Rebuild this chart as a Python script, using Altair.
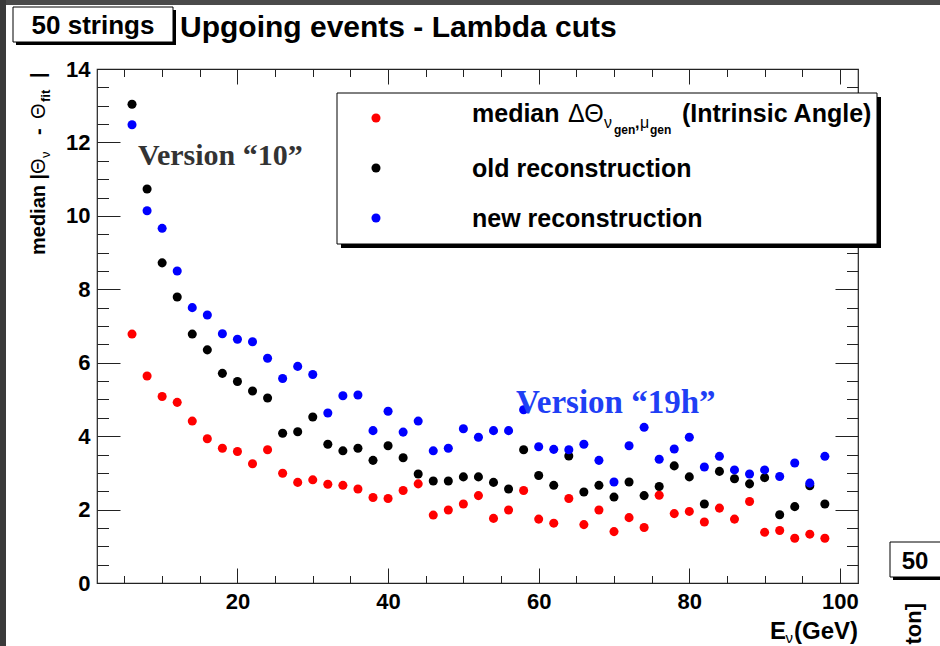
import altair as alt
import pandas as pd

# ---------------- data ----------------
energy = [6, 8, 10, 12, 14, 16, 18, 20, 22, 24, 26, 28, 30, 32, 34, 36, 38, 40, 42, 44,
          46, 48, 50, 52, 54, 56, 58, 60, 62, 64, 66, 68, 70, 72, 74, 76, 78, 80, 82, 84,
          86, 88, 90, 92, 94, 96, 98]
median_intrinsic = [6.78, 5.64, 5.08, 4.92, 4.41, 3.93, 3.67, 3.58, 3.25, 3.63, 2.99, 2.74,
                    2.81, 2.69, 2.66, 2.56, 2.33, 2.30, 2.52, 2.70, 1.85, 1.99, 2.15, 2.38,
                    1.76, 1.99, 2.52, 1.74, 1.63, 2.30, 1.59, 1.99, 1.40, 1.78, 1.51, 2.39,
                    1.89, 1.95, 1.66, 2.04, 1.74, 2.22, 1.38, 1.43, 1.22, 1.33, 1.22]
old_reco = [13.04, 10.73, 8.72, 7.79, 6.78, 6.35, 5.71, 5.49, 5.23, 5.04, 4.08, 4.12, 4.52,
            3.78, 3.60, 3.67, 3.34, 3.74, 3.41, 2.97, 2.78, 2.78, 2.89, 2.89, 2.74, 2.56,
            3.63, 2.93, 2.66, 3.46, 2.48, 2.66, 2.34, 2.75, 2.38, 2.63, 3.19, 2.89, 2.15,
            3.04, 2.84, 2.70, 2.87, 1.86, 2.08, 2.65, 2.15]
new_reco = [12.48, 10.14, 9.66, 8.50, 7.50, 7.30, 6.79, 6.64, 6.57, 6.12, 5.57, 5.90, 5.68,
            4.63, 5.10, 5.12, 4.15, 4.68, 4.11, 4.41, 3.60, 3.67, 4.20, 3.97, 4.15, 4.15,
            4.72, 3.71, 3.64, 3.63, 3.78, 3.34, 2.75, 3.74, 4.24, 3.37, 3.65, 3.97, 3.16,
            3.45, 3.08, 2.97, 3.08, 2.90, 3.27, 2.72, 3.45]

series_names = ["old", "median", "new"]
series_colors = ["#000000", "#ff0000", "#0000ff"]

x_domain = [1.35, 102.4]
y_domain = [0, 14]
x_major_ticks = [20, 40, 60, 80, 100]
x_minor_ticks = [v for v in range(5, 101, 5) if v % 20 != 0]
y_major_ticks = [0, 2, 4, 6, 8, 10, 12, 14]
y_minor_ticks = [v / 2 for v in range(1, 28) if v % 4 != 0]

title_box_text = "50 strings"
title_text = "Upgoing events - Lambda cuts"
version_old_text = "Version \u201c10\u201d"
version_new_text = "Version \u201c19h\u201d"

# ---------------- layout ----------------
W, H = 761, 514
LEFT, TOP = 97, 69
SANS = "Liberation Sans"
SERIF = "Liberation Serif"
DOT = 82


def px(v):
    return v - LEFT


def py(v):
    return v - TOP


rows = []
for name, vals in zip(series_names, [old_reco, median_intrinsic, new_reco]):
    for e, v in zip(energy, vals):
        rows.append({"energy": e, "value": v, "series": name})
df = pd.DataFrame(rows)

xs = alt.Scale(domain=x_domain, nice=False, zero=False)
ys = alt.Scale(domain=y_domain, nice=False, zero=False)

label_common = dict(grid=False, domain=False, ticks=False, labelFont=SANS,
                    labelFontWeight="bold", labelFontSize=22, labelColor="black",
                    title=None, labelOverlap=False)

points = alt.Chart(df).mark_circle(size=DOT, opacity=1).encode(
    x=alt.X("energy:Q", scale=xs,
            axis=alt.Axis(orient="bottom", values=x_major_ticks, labelPadding=8,
                          labelFlush=False, **label_common)),
    y=alt.Y("value:Q", scale=ys,
            axis=alt.Axis(orient="left", values=y_major_ticks, labelPadding=7, **label_common)),
    color=alt.Color("series:N", scale=alt.Scale(domain=series_names, range=series_colors),
                    legend=None),
    order=alt.Order("o:Q"),
).transform_calculate(o="datum.series == 'old' ? 0 : (datum.series == 'median' ? 1 : 2)")


def tick_layer(xorient, yorient, xvals, yvals, xlen, ylen):
    common = dict(grid=False, domain=False, labels=False, title=None, ticks=True,
                  tickColor="#222222", tickWidth=1)
    return alt.Chart(df).mark_point(opacity=0).encode(
        x=alt.X("energy:Q", scale=xs,
                axis=alt.Axis(orient=xorient, values=xvals, tickSize=xlen, offset=-xlen, **common)),
        y=alt.Y("value:Q", scale=ys,
                axis=alt.Axis(orient=yorient, values=yvals, tickSize=ylen, offset=-ylen, **common)),
    )


ticks_a = tick_layer("bottom", "left", x_major_ticks, y_major_ticks, 15, 23)
ticks_b = tick_layer("bottom", "left", x_minor_ticks, y_minor_ticks, 7.5, 11.5)
ticks_c = tick_layer("top", "right", x_major_ticks, y_major_ticks, 15, 23)
ticks_d = tick_layer("top", "right", x_minor_ticks, y_minor_ticks, 7.5, 11.5)

one = pd.DataFrame({"k": [0]})


def rect(x0, y0, x1, y1, fill, stroke=None, sw=0):
    kw = dict(fill=fill)
    if stroke:
        kw.update(stroke=stroke, strokeWidth=sw)
    return alt.Chart(one).mark_rect(**kw).encode(
        x=alt.value(px(x0)), x2=alt.value(px(x1)), y=alt.value(py(y0)), y2=alt.value(py(y1)))


def text(t, x, y, size, font=SANS, weight="bold", color="black", align="left", angle=0):
    kw = dict(font=font, fontSize=size, fontWeight=weight, color=color, align=align,
              baseline="alphabetic")
    if angle:
        kw["angle"] = angle
    return alt.Chart(one).mark_text(**kw).encode(
        x=alt.value(px(x)), y=alt.value(py(y)), text=alt.value(t))


def dot(x, y, color):
    return alt.Chart(one).mark_circle(size=DOT, opacity=1, color=color).encode(
        x=alt.value(px(x)), y=alt.value(py(y)))


deco = [
    # screenshot border
    rect(0, 0, 940, 5, "#4a4a4a"),
    rect(0, 0, 6, 646, "#3a3a3a"),
    # title box
    rect(16, 10, 176, 45, "#000000"),
    rect(13, 7, 173, 42, "#ffffff", "#000000", 1),
    text(title_box_text, 93, 34, 26, align="center"),
    text(title_text, 180, 37, 30),
    # legend box
    rect(341, 97, 881, 248, "#000000"),
    rect(337, 93, 877, 244, "#ffffff", "#000000", 1),
    dot(376, 118, series_colors[1]),
    dot(376, 168, series_colors[0]),
    dot(376, 218, series_colors[2]),
    text("median", 472, 122, 25),
    text("\u0394\u0398", 568, 122, 25, weight="normal"),
    text("\u03bd", 604, 128, 16, weight="normal"),
    text("gen", 614, 134, 12),
    text(",", 635, 128, 16),
    text("\u03bc", 640, 128, 16, weight="normal"),
    text("gen", 650, 134, 12),
    text("(Intrinsic Angle)", 682, 122, 25),
    text("old reconstruction", 472, 177, 25),
    text("new reconstruction", 472, 227, 25),
    # annotations
    text(version_old_text, 138, 165, 30, font=SERIF, color="#333333"),
    text(version_new_text, 516, 413, 33, font=SERIF, color="#1f3ff5"),
    # y title
    text("median |", 45, 255, 20, angle=270),
    text("\u0398", 45, 174, 20, weight="normal", angle=270),
    text("\u03bd", 50, 158, 13, weight="normal", angle=270),
    text("-", 45, 135, 20, angle=270),
    text("\u0398", 45, 119, 20, weight="normal", angle=270),
    text("fit", 50, 102, 13, angle=270),
    text("|", 45, 78, 20, angle=270),
    # x title
    text("(GeV)", 858, 639, 24, align="right"),
    text("\u03bd", 793, 643, 15, weight="normal", align="right"),
    text("E", 786, 639, 24, align="right"),
    # right edge cut-off box
    rect(893, 545, 945, 580, "#000000"),
    rect(890, 542, 945, 577, "#ffffff", "#000000", 1),
    text("50", 915, 569, 24, align="center"),
    text("ton]", 921, 603, 22, align="right", angle=270),
]

chart = alt.layer(points, ticks_a, ticks_b, ticks_c, ticks_d, *deco).resolve_axis(
    x="independent", y="independent"
).properties(
    width=W, height=H,
    autosize=alt.AutoSizeParams(type="none"),
    padding={"left": LEFT, "top": TOP, "right": 940 - LEFT - W, "bottom": 646 - TOP - H},
    background="white",
).configure_view(stroke="#222222", strokeWidth=1.2)

chart.save("out.html", embed_options={"renderer": "svg", "actions": False})
